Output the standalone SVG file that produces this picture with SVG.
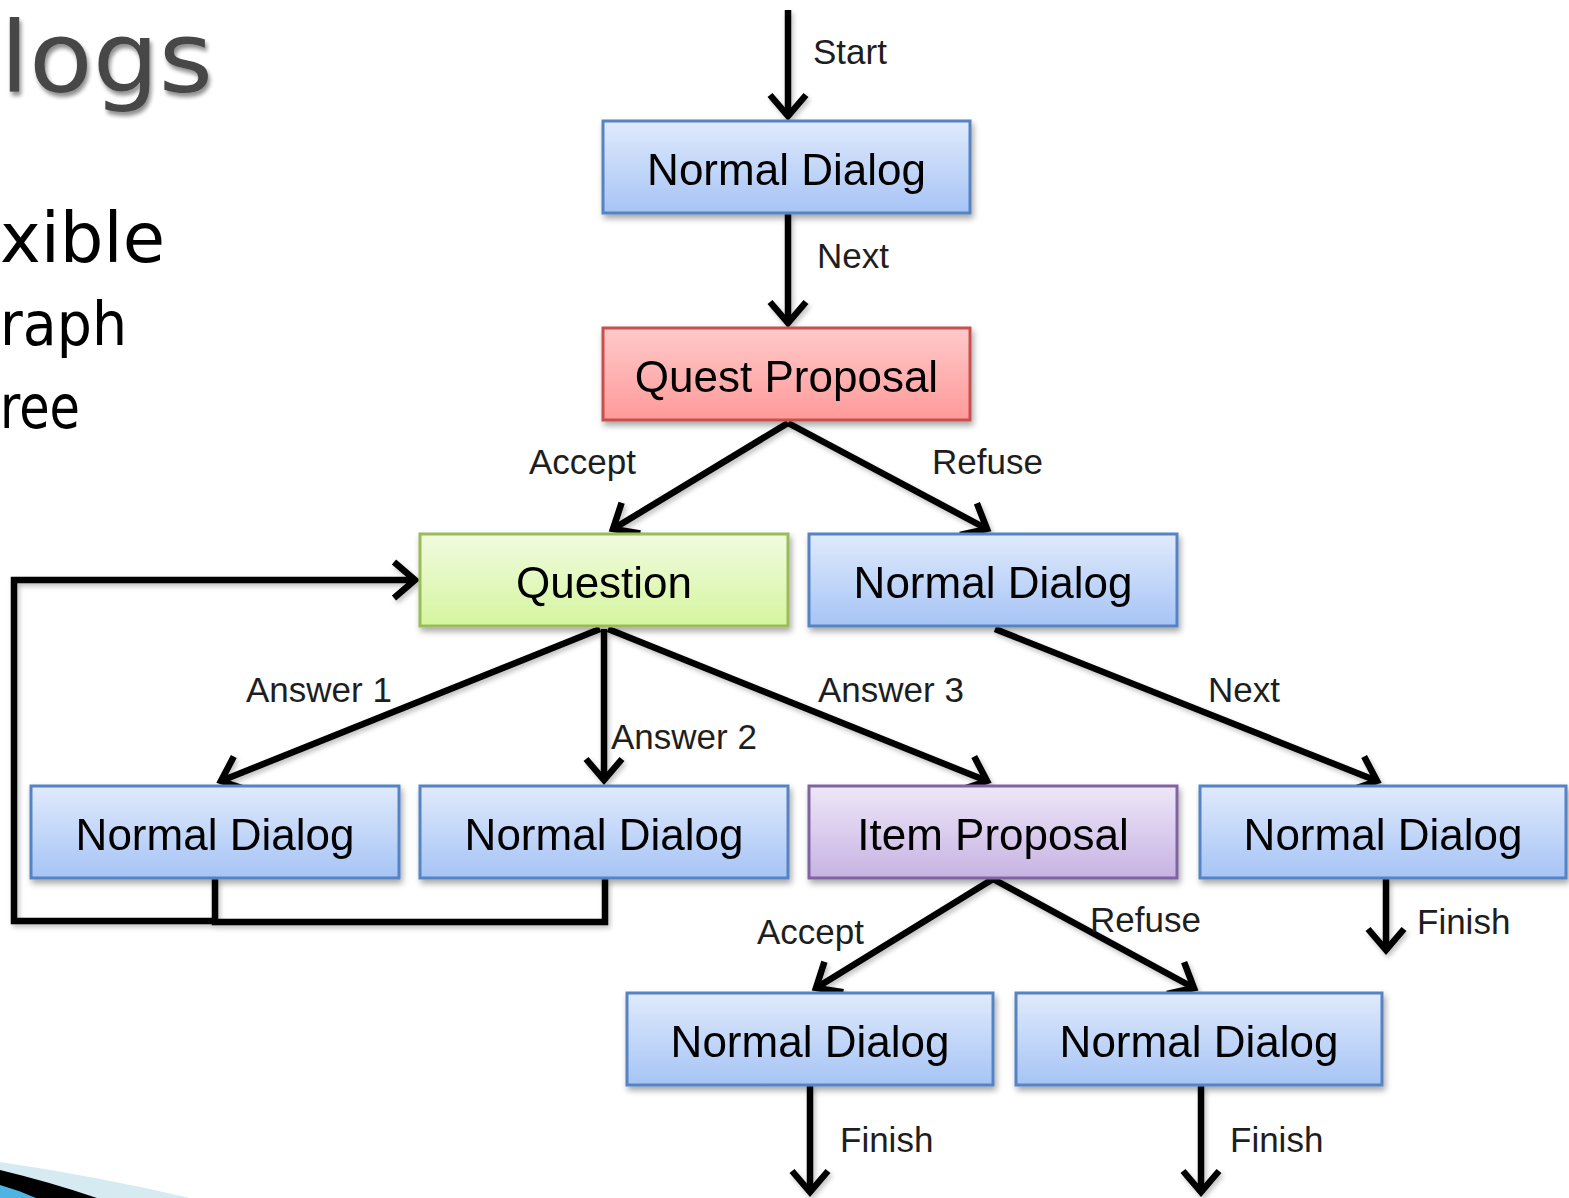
<svg xmlns="http://www.w3.org/2000/svg" width="1569" height="1198" viewBox="0 0 1569 1198">
  <defs>
    <style>
      .box { stroke-width: 3; }
      .lbl { font-family: "Liberation Sans", Arial, sans-serif; font-size: 44px; fill: #000; text-anchor: middle; }
      .elbl { font-family: "Liberation Sans", Arial, sans-serif; font-size: 35px; fill: #1e1e1e; }
      .edge { fill: none; stroke: #000; stroke-width: 6.5; }
      .arrow { marker-end: url(#ah); }
      .slide { font-family: "DejaVu Sans", "Liberation Sans", sans-serif; fill: #000; }
    </style>
    <linearGradient id="gBlue" x1="0" y1="0" x2="0" y2="1">
      <stop offset="0" stop-color="#e0eafc"/>
      <stop offset="1" stop-color="#a6c4f5"/>
    </linearGradient>
    <linearGradient id="gRed" x1="0" y1="0" x2="0" y2="1">
      <stop offset="0" stop-color="#ffc9c9"/>
      <stop offset="1" stop-color="#ff9a9a"/>
    </linearGradient>
    <linearGradient id="gGreen" x1="0" y1="0" x2="0" y2="1">
      <stop offset="0" stop-color="#f1fbdf"/>
      <stop offset="1" stop-color="#d5f59f"/>
    </linearGradient>
    <linearGradient id="gPurple" x1="0" y1="0" x2="0" y2="1">
      <stop offset="0" stop-color="#eee6f8"/>
      <stop offset="1" stop-color="#c7b3e3"/>
    </linearGradient>
    <filter id="shadow" x="-10%" y="-20%" width="125%" height="150%">
      <feGaussianBlur in="SourceAlpha" stdDeviation="3"/>
      <feOffset dx="2" dy="4" result="b"/>
      <feComponentTransfer><feFuncA type="linear" slope="0.35"/></feComponentTransfer>
      <feMerge><feMergeNode/><feMergeNode in="SourceGraphic"/></feMerge>
    </filter>
    <filter id="lshadow" x="-20%" y="-20%" width="140%" height="140%">
      <feGaussianBlur in="SourceAlpha" stdDeviation="2.5"/>
      <feOffset dx="2" dy="3"/>
      <feComponentTransfer><feFuncA type="linear" slope="0.25"/></feComponentTransfer>
      <feMerge><feMergeNode/><feMergeNode in="SourceGraphic"/></feMerge>
    </filter>
    <filter id="tshadow" x="-10%" y="-10%" width="130%" height="140%">
      <feGaussianBlur in="SourceAlpha" stdDeviation="2"/>
      <feOffset dx="2" dy="4"/>
      <feComponentTransfer><feFuncA type="linear" slope="0.45"/></feComponentTransfer>
      <feMerge><feMergeNode/><feMergeNode in="SourceGraphic"/></feMerge>
    </filter>
    <marker id="ah" markerUnits="userSpaceOnUse" markerWidth="44" markerHeight="44" refX="0" refY="0" orient="auto" overflow="visible">
      <path d="M-21,-18 L0,0 L-21,18" fill="none" stroke="#000" stroke-width="6.5"/>
    </marker>
  </defs>

  <rect width="1569" height="1198" fill="#fff"/>

  <!-- slide title and bullet fragments -->
  <g id="slide-text">
    <text class="slide" x="0" y="92" font-size="98" style="fill:#474747" textLength="213" lengthAdjust="spacingAndGlyphs" filter="url(#tshadow)">logs</text>
    <text class="slide" x="0" y="262" font-size="69" textLength="165" lengthAdjust="spacingAndGlyphs">xible</text>
    <text class="slide" x="0" y="345" font-size="60" textLength="127" lengthAdjust="spacingAndGlyphs">raph</text>
    <text class="slide" x="0" y="428" font-size="60" textLength="80" lengthAdjust="spacingAndGlyphs">ree</text>
  </g>

  <!-- theme corner decoration -->
  <g id="corner">
    <path d="M0,1162 Q95,1176 190,1198 L0,1198 Z" fill="#d6eaf2"/>
    <path d="M0,1170 Q50,1182 97,1198 L0,1198 Z" fill="#000"/>
    <path d="M0,1185 Q18,1190 36,1198 L0,1198 Z" fill="#4fb4e4"/>
  </g>

  <!-- connectors -->
  <g id="connectors" filter="url(#lshadow)">
    <line class="edge arrow" x1="788" y1="10" x2="788" y2="116"/>
    <line class="edge arrow" x1="788" y1="214" x2="788" y2="323"/>
    <line class="edge arrow" x1="788" y1="423" x2="613" y2="529"/>
    <line class="edge arrow" x1="788" y1="423" x2="987" y2="529"/>
    <line class="edge arrow" x1="600" y1="629" x2="221" y2="781"/>
    <line class="edge arrow" x1="604" y1="629" x2="604" y2="780"/>
    <line class="edge arrow" x1="608" y1="629" x2="987" y2="781"/>
    <line class="edge arrow" x1="995" y1="629" x2="1377" y2="781"/>
    <line class="edge arrow" x1="993" y1="879" x2="816" y2="988"/>
    <line class="edge arrow" x1="993" y1="879" x2="1194" y2="988"/>
    <line class="edge arrow" x1="1386" y1="879" x2="1386" y2="950"/>
    <line class="edge arrow" x1="810" y1="1086" x2="810" y2="1192"/>
    <line class="edge arrow" x1="1201" y1="1086" x2="1201" y2="1192"/>
    <!-- loop back from Answer 1 / Answer 2 dialogs to Question -->
    <polyline class="edge" points="215,879 215,922 605,922 605,879" stroke-linejoin="miter"/>
    <polyline class="edge arrow" points="215,921 14,921 14,580 415,580" stroke-linejoin="miter"/>
  </g>

  <!-- edge labels -->
  <g id="edge-labels">
    <text class="elbl" x="813" y="64">Start</text>
    <text class="elbl" x="817" y="268">Next</text>
    <text class="elbl" x="529" y="474">Accept</text>
    <text class="elbl" x="932" y="474">Refuse</text>
    <text class="elbl" x="246" y="702">Answer 1</text>
    <text class="elbl" x="611" y="749">Answer 2</text>
    <text class="elbl" x="818" y="702">Answer 3</text>
    <text class="elbl" x="1208" y="702">Next</text>
    <text class="elbl" x="757" y="944">Accept</text>
    <text class="elbl" x="1090" y="932">Refuse</text>
    <text class="elbl" x="1417" y="934">Finish</text>
    <text class="elbl" x="840" y="1152">Finish</text>
    <text class="elbl" x="1230" y="1152">Finish</text>
  </g>

  <!-- nodes -->
  <g id="n-start-dialog" filter="url(#shadow)">
    <rect class="box" x="603" y="121" width="367" height="92" fill="url(#gBlue)" stroke="#5583c4"/>
    <text class="lbl" x="786.5" y="185">Normal Dialog</text>
  </g>
  <g id="n-quest-proposal" filter="url(#shadow)">
    <rect class="box" x="603" y="328" width="367" height="92" fill="url(#gRed)" stroke="#c9504e"/>
    <text class="lbl" x="786.5" y="392">Quest Proposal</text>
  </g>
  <g id="n-question" filter="url(#shadow)">
    <rect class="box" x="420" y="534" width="368" height="92" fill="url(#gGreen)" stroke="#9bbb59"/>
    <text class="lbl" x="604" y="598">Question</text>
  </g>
  <g id="n-refuse-dialog" filter="url(#shadow)">
    <rect class="box" x="809" y="534" width="368" height="92" fill="url(#gBlue)" stroke="#5583c4"/>
    <text class="lbl" x="993" y="598">Normal Dialog</text>
  </g>
  <g id="n-answer1-dialog" filter="url(#shadow)">
    <rect class="box" x="31" y="786" width="368" height="92" fill="url(#gBlue)" stroke="#5583c4"/>
    <text class="lbl" x="215" y="850">Normal Dialog</text>
  </g>
  <g id="n-answer2-dialog" filter="url(#shadow)">
    <rect class="box" x="420" y="786" width="368" height="92" fill="url(#gBlue)" stroke="#5583c4"/>
    <text class="lbl" x="604" y="850">Normal Dialog</text>
  </g>
  <g id="n-item-proposal" filter="url(#shadow)">
    <rect class="box" x="809" y="786" width="368" height="92" fill="url(#gPurple)" stroke="#8064a2"/>
    <text class="lbl" x="993" y="850">Item Proposal</text>
  </g>
  <g id="n-next-dialog" filter="url(#shadow)">
    <rect class="box" x="1200" y="786" width="366" height="92" fill="url(#gBlue)" stroke="#5583c4"/>
    <text class="lbl" x="1383" y="850">Normal Dialog</text>
  </g>
  <g id="n-accept-dialog" filter="url(#shadow)">
    <rect class="box" x="627" y="993" width="366" height="92" fill="url(#gBlue)" stroke="#5583c4"/>
    <text class="lbl" x="810" y="1057">Normal Dialog</text>
  </g>
  <g id="n-refuse-item-dialog" filter="url(#shadow)">
    <rect class="box" x="1016" y="993" width="366" height="92" fill="url(#gBlue)" stroke="#5583c4"/>
    <text class="lbl" x="1199" y="1057">Normal Dialog</text>
  </g>
</svg>
